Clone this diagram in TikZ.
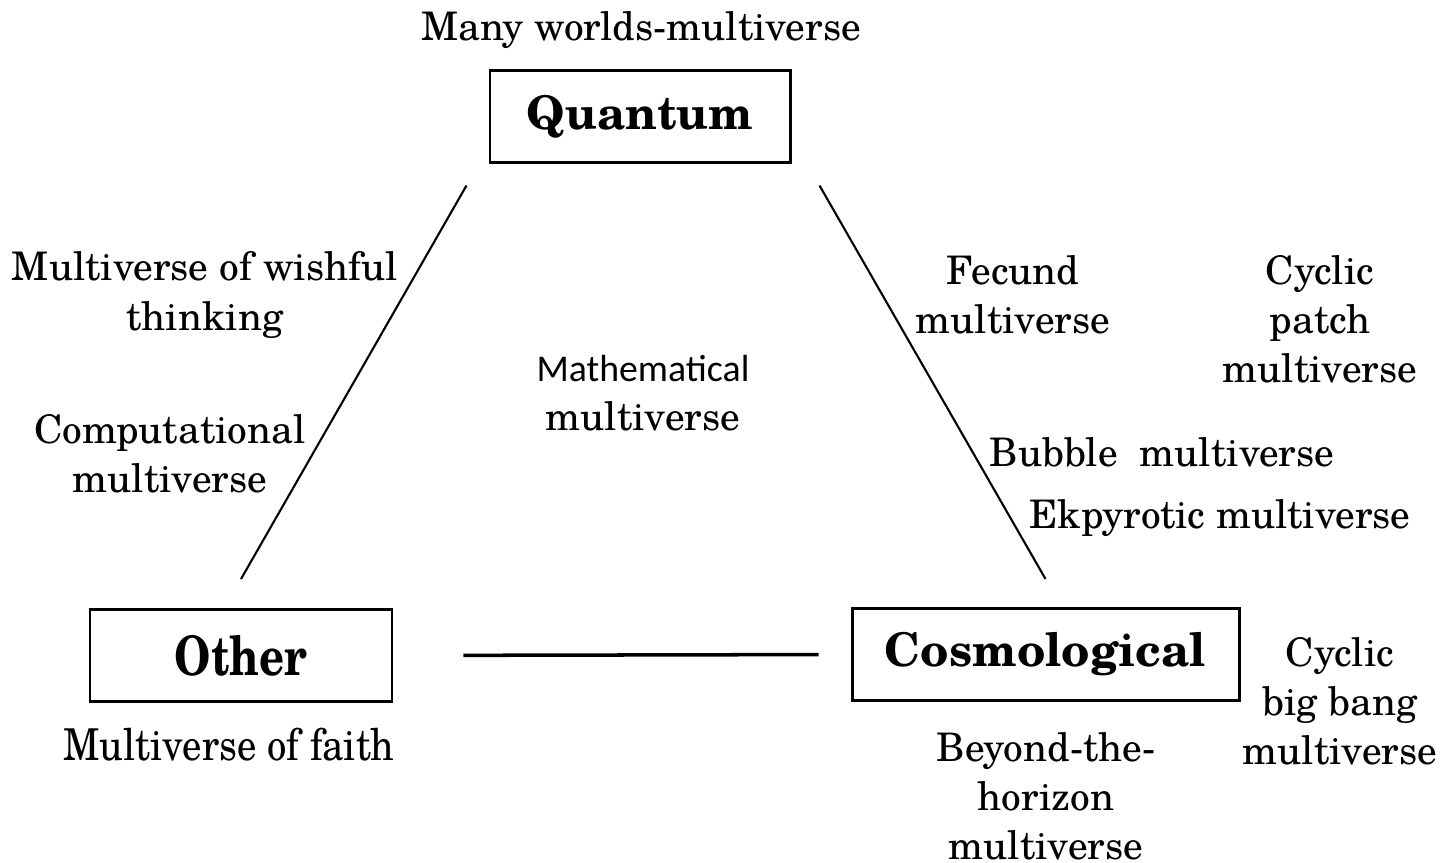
\documentclass[tikz,border=0pt]{standalone}
\usepackage{fontspec}
\setmainfont{TeX Gyre Schola}
\newfontfamily\calibrifont{Carlito}[Scale=0.96]
\newfontfamily\narrowfont{TeX Gyre Schola}[FakeStretch=0.88]
\newfontfamily\tallfont{TeX Gyre Schola}[FakeStretch=0.8]
\usepackage{tikz}
\usetikzlibrary{calc}

\begin{document}
\begin{tikzpicture}[font=\fontsize{11.2}{14}\selectfont,
  kind/.style={draw, line width=0.85pt, minimum height=0.92cm, font=\fontsize{13.2}{16}\selectfont\bfseries},
  lbl/.style={align=center, inner sep=0pt},
  link/.style={line width=0.6pt}]

\useasboundingbox (0,0) rectangle (14.46,8.63);

% the three kinds
\node[kind, minimum width=3.0cm] (quantum) at (6.40,7.46) {Quantum};
\node[kind, minimum width=3.02cm, font=\fontsize{15.5}{18}\selectfont\tallfont\bfseries] (other) at (2.41,2.075) {Other};
\node[kind, minimum width=3.87cm] (cosmo) at (10.455,2.085) {Cosmological};

\draw[link] ($(quantum.south west)+(-0.22,-0.21)$) -- ($(other.north)+(0,0.29)$);
\draw[link] ($(quantum.south east)+(0.28,-0.21)$) -- ($(cosmo.north)+(0,0.28)$);
\draw[link, line width=1pt, shorten <=0.7cm, shorten >=0.32cm] (other.east) -- (cosmo.west);

% labels
\node[lbl] (manyworlds) at (6.41,8.33) {Many worlds-multiverse};
\node[lbl] (wishful) at (2.05,5.68) {Multiverse of wishful\\thinking};
\node[lbl] (computational) at (1.70,4.09) {Computational\\multiverse};
\node[lbl] (mathematical) at (6.43,4.70) {{\calibrifont Mathematical}\\multiverse};
\node[lbl] (fecund) at (10.13,5.68) {Fecund\\multiverse};
\node[lbl] (cyclicpatch) at (13.20,5.44) {Cyclic\\patch\\multiverse};
\node[lbl] (bubble) at (11.62,4.11) {Bubble\ \ multiverse};
\node[lbl] (ekpyrotic) at (12.20,3.45) {Ekpyrotic multiverse};
\node[lbl] (cyclicbang) at (13.40,1.62) {Cyclic\\big bang\\multiverse};
\node[lbl] (horizon) at (10.46,0.67) {Beyond-the-\\horizon\\multiverse};
\node[lbl, font=\fontsize{12.5}{14}\selectfont\narrowfont] (faith) at (2.29,1.18) {Multiverse of faith};

\end{tikzpicture}
\end{document}
